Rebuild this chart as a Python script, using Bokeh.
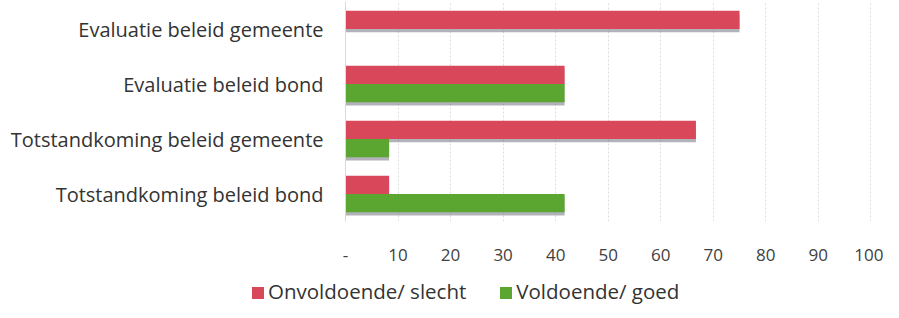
from bokeh.plotting import figure
from bokeh.layouts import column
from bokeh.models import FactorRange, Range1d, FixedTicker, ColumnDataSource, Div
from bokeh.transform import dodge
from bokeh.embed import file_html
from bokeh.resources import INLINE

categories = ["Totstandkoming beleid bond", "Totstandkoming beleid gemeente",
              "Evaluatie beleid bond", "Evaluatie beleid gemeente"]
onvoldoende = [8.3, 66.7, 41.7, 75.0]
voldoende = [41.7, 8.3, 41.7, 0.0]
x_ticks = [0, 10, 20, 30, 40, 50, 60, 70, 80, 90, 100]
series_labels = ["Onvoldoende/ slecht", "Voldoende/ goed"]

RED = "#d9475b"
GREEN = "#5aa630"
FONT = "Open Sans"

src = ColumnDataSource(dict(cat=categories, red=onvoldoende, green=voldoende))

p = figure(width=883, height=272, output_backend="svg", toolbar_location=None,
           y_range=FactorRange(factors=categories, range_padding=0),
           x_range=Range1d(0, 100.5))
p.min_border_left = 345
p.min_border_right = 10
p.min_border_top = 1
p.min_border_bottom = 51
p.outline_line_color = None

bh = 0.33
# shadows
p.hbar(y=dodge("cat", 0.165 - 0.06, range=p.y_range), left=0, right="red", height=bh,
       source=src, fill_color="#555566", fill_alpha=0.45, line_color=None)
p.hbar(y=dodge("cat", -0.165 - 0.06, range=p.y_range), left=0, right="green", height=bh,
       source=src, fill_color="#555566", fill_alpha=0.45, line_color=None)
p.hbar(y=dodge("cat", 0.165, range=p.y_range), left=0, right="red", height=bh,
       source=src, fill_color=RED, line_color=None)
p.hbar(y=dodge("cat", -0.165, range=p.y_range), left=0, right="green", height=bh,
       source=src, fill_color=GREEN, line_color=None)

p.xaxis.ticker = FixedTicker(ticks=x_ticks)
p.xaxis.major_label_overrides = {0: "-"}
p.xaxis.axis_line_color = None
p.xaxis.major_tick_line_color = None
p.xaxis.minor_tick_line_color = None
p.xaxis.major_tick_out = 0
p.xaxis.major_label_standoff = 27
p.xaxis.major_label_text_font = FONT
p.xaxis.major_label_text_font_size = "17px"
p.xaxis.major_label_text_color = "#404040"

p.yaxis.axis_line_color = "#d9d9d9"
p.yaxis.major_tick_line_color = None
p.yaxis.minor_tick_line_color = None
p.yaxis.major_tick_out = 0
p.yaxis.major_label_standoff = 22
p.yaxis.major_label_text_font = FONT
p.yaxis.major_label_text_font_size = "20px"
p.yaxis.major_label_text_color = "#333333"

p.ygrid.grid_line_color = None
p.xgrid.grid_line_color = "#dcdcdc"
p.xgrid.grid_line_dash = "2 2"

# legend strip (HTML)
def item(color, label, ml):
    return (f'<span style="display:inline-block;margin-left:{ml}px;">'
            f'<span style="display:inline-block;width:12px;height:12px;background:{color};'
            f'margin-right:4px;vertical-align:0px;"></span>{label}</span>')

html = (f'<div style="width:883px;height:30px;padding-top:8px;box-sizing:border-box;'
        f'font-family:\'{FONT}\';font-size:20.5px;line-height:22px;color:#333333;'
        f'white-space:nowrap;padding-left:252px;">'
        + item(RED, series_labels[0], 0) + item(GREEN, series_labels[1], 34) + '</div>')
lg = Div(text=html, width=883, height=30, margin=0)

layout = column(p, lg, spacing=0)
open("out.html", "w").write(file_html(layout, INLINE))
